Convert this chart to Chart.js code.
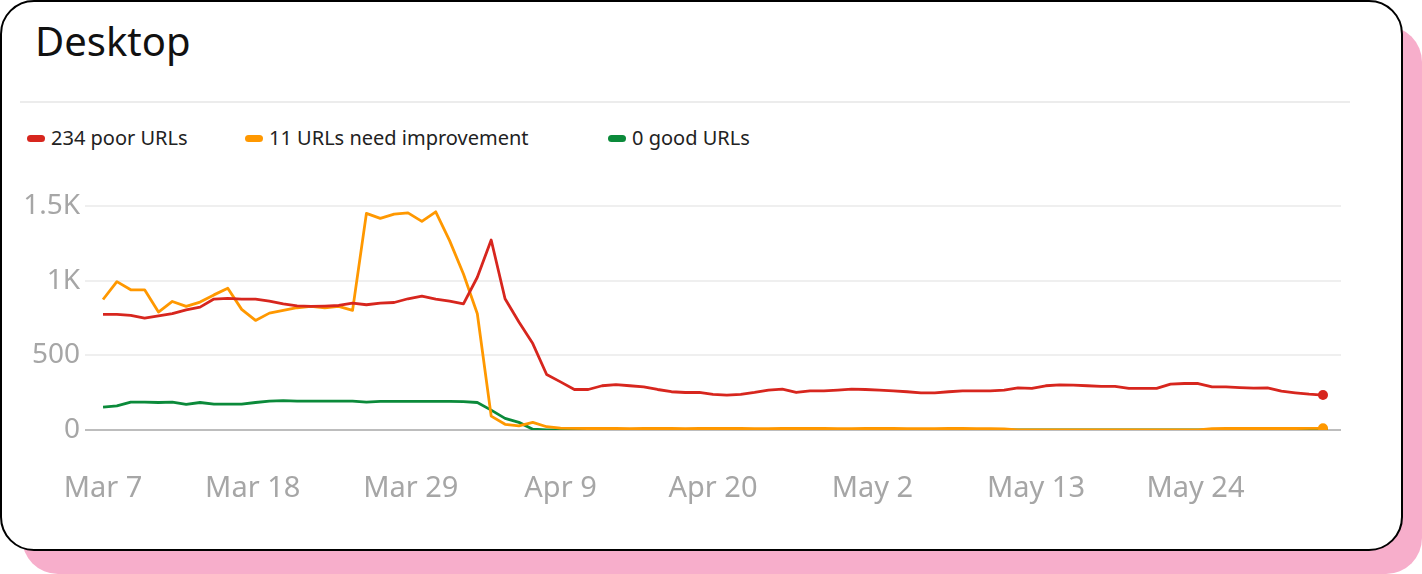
<!DOCTYPE html>
<html>
<head>
<meta charset="utf-8">
<script src="https://cdn.jsdelivr.net/npm/chart.js@4.4.0/dist/chart.umd.min.js"></script>
<style>
html, body { margin: 0; padding: 0; background: #fff; font-family: "Noto Sans", sans-serif; }
#wrap { position: relative; width: 1422px; height: 574px; overflow: hidden; }
#shadow { position: absolute; left: 22px; top: 26px; width: 1400px; height: 548px; background: #f7aecb; border-radius: 36px; }
#card { position: absolute; left: 0; top: 0; width: 1399px; height: 547px; background: #fff; border: 2px solid #000; border-radius: 34px; }
#title { position: absolute; left: 35px; top: 17px; font-size: 40px; line-height: 48px; color: #111; }
#sep { position: absolute; left: 20px; top: 101px; width: 1330px; height: 2px; background: #ececec; }
#legend { position: absolute; left: 27px; top: 125px; height: 26px; display: flex; font-size: 20px; line-height: 26px; color: #222; }
#legend .item { display: flex; align-items: center; }
#legend .item:nth-child(1) { width: 218px; }
#legend .item:nth-child(2) { width: 363px; }
#legend .mark { width: 18px; height: 7px; border-radius: 4px; margin-right: 6px; }
#plot { position: absolute; left: 10px; top: 184px; width: 1336px; height: 336px; }
</style>
</head>
<body>
<div id="wrap">
  <div id="shadow"></div>
  <div id="card"></div>
  <div id="title">Desktop</div>
  <div id="sep"></div>
  <div id="legend"></div>
  <div id="plot"><canvas id="chart"></canvas></div>
</div>
<script>
// daily counts, Mar 7 onwards
var poorUrls = [773, 773, 767, 749, 764, 778, 804, 822, 876, 880, 876, 876, 862, 844, 831, 827,
  829, 833, 849, 838, 849, 853, 878, 896, 876, 862, 844, 1022, 1271, 878, 722, 578, 371, 322,
  271, 271, 296, 304, 296, 289, 271, 256, 251, 251, 238, 233, 238, 251, 267, 273, 251, 262, 262,
  267, 273, 271, 267, 262, 256, 249, 249, 256, 262, 262, 262, 267, 282, 278, 296, 302, 300, 296,
  292, 292, 278, 278, 278, 307, 311, 311, 289, 289, 284, 280, 282, 260, 249, 240, 234];
var needImprovement = [873, 993, 938, 938, 789, 860, 827, 856, 904, 949, 807, 733, 782, 800, 818, 827,
  818, 827, 800, 1449, 1416, 1444, 1453, 1396, 1460, 1267, 1044, 778, 93, 38, 27, 51, 22, 13,
  11, 10, 10, 10, 9, 10, 10, 10, 9, 10, 10, 10, 10, 9, 9, 10, 10, 10, 10, 9, 9, 10, 10, 10, 9,
  9, 9, 10, 10, 9, 9, 8, 0, 0, 0, 0, 0, 0, 0, 0, 0, 0, 0, 0, 0, 0, 9, 10, 10, 10, 10, 10, 10, 11, 11];
var goodUrls = [153, 162, 187, 187, 184, 187, 171, 184, 173, 173, 173, 184, 193, 196, 193, 193,
  193, 193, 193, 187, 191, 191, 191, 191, 191, 191, 190, 184, 133, 78, 51, 5, 0, 0,
  0, 0, 0, 0, 0, 0, 0, 0, 0, 0, 0, 0, 0, 0, 0, 0, 0, 0, 0, 0, 0, 0, 0, 0, 0, 0, 0, 0, 0, 0, 0,
  0, 0, 0, 0, 0, 0, 0, 0, 0, 0, 0, 0, 0, 0, 0, 0, 0, 0, 0, 0, 0, 0, 0, 0];

var seriesNames = ['234 poor URLs', '11 URLs need improvement', '0 good URLs'];
var xTickLabels = ['Mar 7', 'Mar 18', 'Mar 29', 'Apr 9', 'Apr 20', 'May 2', 'May 13', 'May 24'];
var xTickIndex = [0, 10.8, 22.2, 33, 44, 55.5, 67.3, 78.8];
var yTickValues = [0, 500, 1000, 1500];
var yTickLabels = ['0', '500', '1K', '1.5K'];

var colors = ['#d7261e', '#ff9800', '#0b8a3a'];

function toPoints(arr) {
    return arr.map(function (v, i) { return { x: i, y: v }; });
}

function lastOnly(ctx) {
    return ctx.dataIndex === ctx.dataset.data.length - 1 ? 5 : 0;
}

// legend as html
var legend = document.getElementById('legend');
seriesNames.forEach(function (name, i) {
    var item = document.createElement('div');
    item.className = 'item';
    item.innerHTML = '<span class="mark" style="background:' + colors[i] + '"></span><span></span>';
    item.lastChild.textContent = name;
    legend.appendChild(item);
});

var all = [poorUrls, needImprovement, goodUrls];
var datasets = all.map(function (arr, i) {
    return {
        label: seriesNames[i],
        data: toPoints(arr),
        borderColor: colors[i],
        backgroundColor: colors[i],
        borderWidth: 2.8,
        borderJoinStyle: 'round',
        tension: 0,
        pointRadius: lastOnly,
        pointHoverRadius: lastOnly,
        pointBorderWidth: 0,
        fill: false
    };
});

var ctx = document.getElementById('chart').getContext('2d');
var myLine = new Chart(ctx, {
    type: 'line',
    data: { datasets: datasets },
    options: {
        responsive: true,
        maintainAspectRatio: false,
        animation: false,
        layout: { padding: { top: 20, left: 0, right: 0, bottom: 0 } },
        plugins: {
            legend: { display: false },
            tooltip: { enabled: false }
        },
        scales: {
            x: {
                type: 'linear',
                min: -1.3,
                max: 89.3,
                border: { display: false },
                grid: { display: false, drawTicks: false },
                afterBuildTicks: function (axis) {
                    axis.ticks = xTickIndex.map(function (v) { return { value: v }; });
                },
                afterFit: function (axis) { axis.height = 90; },
                ticks: {
                    autoSkip: false,
                    maxRotation: 0,
                    padding: 41,
                    color: '#a6a6a6',
                    font: { family: '"Noto Sans"', size: 29 },
                    callback: function (value) {
                        var k = xTickIndex.indexOf(value);
                        return k >= 0 ? xTickLabels[k] : '';
                    }
                }
            },
            y: {
                min: 0,
                max: 1500,
                border: { display: false },
                afterFit: function (axis) { axis.width = 75; },
                afterBuildTicks: function (axis) {
                    axis.ticks = yTickValues.map(function (v) { return { value: v }; });
                },
                grid: {
                    drawTicks: false,
                    lineWidth: 2,
                    color: function (c) { return c.tick && c.tick.value === 0 ? '#bdbdbd' : '#efefef'; }
                },
                ticks: {
                    padding: 5,
                    color: '#a6a6a6',
                    font: { family: '"Noto Sans"', size: 28 },
                    callback: function (value) {
                        var k = yTickValues.indexOf(value);
                        return k >= 0 ? yTickLabels[k] : '';
                    }
                }
            }
        }
    }
});
</script>
</body>
</html>
